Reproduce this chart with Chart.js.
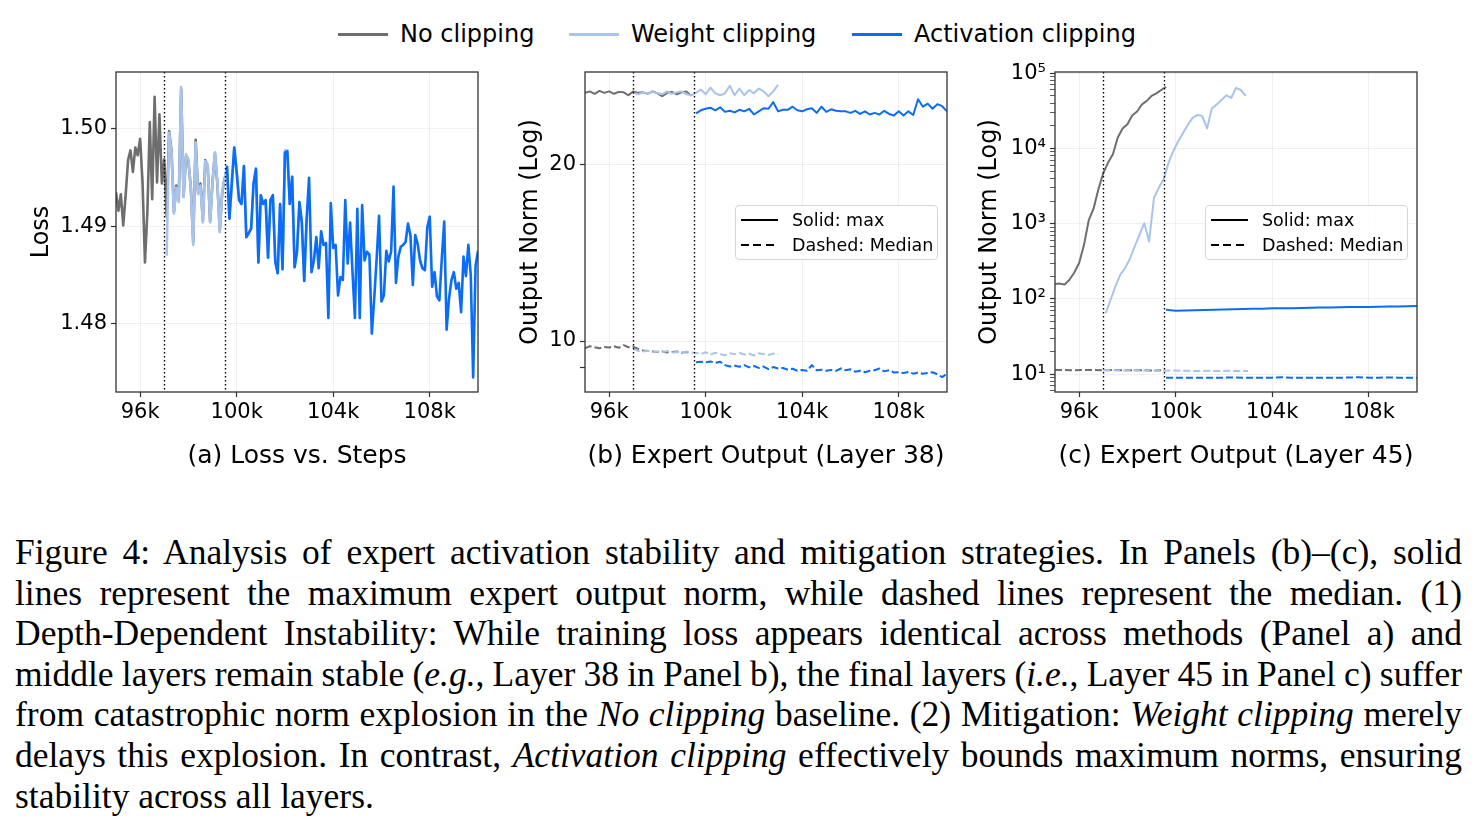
<!DOCTYPE html>
<html>
<head>
<meta charset="utf-8">
<title>Expert activation stability</title>
<script src="https://cdn.jsdelivr.net/npm/chart.js@4.4.1/dist/chart.umd.min.js"></script>
<style>
  body { margin: 0; background: #fff; }
  #page { position: relative; width: 1480px; height: 830px; overflow: hidden; font-family: "DejaVu Sans", sans-serif; }
  canvas.panel { position: absolute; top: 40px; }
  .key { position: absolute; top: 19px; height: 30px; display: flex; align-items: center; font-size: 24px; color: #000; white-space: nowrap; }
  .key i { display: inline-block; width: 50px; height: 3px; margin-right: 12px; }
  .box { position: absolute; top: 205px; width: 201px; height: 53px; border: 1px solid #d6d6d6; border-radius: 4px; background: rgba(255,255,255,0.85); font-size: 17.5px; color: #000; }
  .box div { position: absolute; left: 5px; height: 22px; display: flex; align-items: center; white-space: nowrap; }
  .box i { display: inline-block; width: 37px; height: 2.2px; margin-right: 14px; background: #000; }
  .box i.dash { background: repeating-linear-gradient(90deg, #000 0 8px, transparent 8px 12.5px); }
  #caption { position: absolute; left: 15px; top: 532px; width: 1447px; font-family: "Liberation Serif", serif; font-size: 35.5px; line-height: 40.6px; color: #000; }
  #caption div { text-align: justify; text-align-last: justify; word-spacing: -5px; }
  #caption div.last { text-align-last: left; word-spacing: 0; }
</style>
</head>
<body>
<div id="page">
  <div class="key" style="left:338px"><i style="background:#6e6e6e"></i>No clipping</div>
  <div class="key" style="left:569px"><i style="background:#a8c4ec"></i>Weight clipping</div>
  <div class="key" style="left:852px"><i style="background:#0a6cf7"></i>Activation clipping</div>

  <canvas id="lossChart" class="panel" width="495" height="440" style="left:0px"></canvas>
  <canvas id="layer38Chart" class="panel" width="480" height="440" style="left:495px"></canvas>
  <canvas id="layer45Chart" class="panel" width="505" height="440" style="left:975px"></canvas>

  <div class="box" style="left:735px">
    <div style="top:3px"><i></i>Solid: max</div>
    <div style="top:28px"><i class="dash"></i>Dashed: Median</div>
  </div>
  <div class="box" style="left:1205px">
    <div style="top:3px"><i></i>Solid: max</div>
    <div style="top:28px"><i class="dash"></i>Dashed: Median</div>
  </div>

  <div id="caption">
    <div>Figure 4: Analysis of expert activation stability and mitigation strategies. In Panels (b)–(c), solid</div>
    <div>lines represent the maximum expert output norm, while dashed lines represent the median. (1)</div>
    <div>Depth-Dependent Instability: While training loss appears identical across methods (Panel a) and</div>
    <div>middle layers remain stable (<i>e.g.</i>, Layer 38 in Panel b), the final layers (<i>i.e.</i>, Layer 45 in Panel c) suffer</div>
    <div>from catastrophic norm explosion in the <i>No clipping</i> baseline. (2) Mitigation: <i>Weight clipping</i> merely</div>
    <div>delays this explosion. In contrast, <i>Activation clipping</i> effectively bounds maximum norms, ensuring</div>
    <div class="last">stability across all layers.</div>
  </div>
</div>

<script>
// training steps shown on every panel
const stepTicks = [96000, 100000, 104000, 108000];
const phaseSteps = [97000, 99500];   // weight clipping restart, activation clipping restart

// (a) loss, logged every 100 steps
const lossNoClip = [
  1.4935, 1.4916, 1.4933, 1.4901, 1.4932, 1.4968, 1.4978, 1.4956, 1.4981, 1.4973,
  1.4990, 1.4945, 1.4863, 1.4915, 1.5007, 1.4928, 1.5033, 1.4945, 1.5015, 1.4944,
  1.4969, 1.4910, 1.4998, 1.4978, 1.4915, 1.4942, 1.4927, 1.5041, 1.4931, 1.4972,
  1.4967, 1.4940, 1.4884, 1.4989, 1.4935, 1.4944, 1.4906, 1.4968, 1.4962, 1.4905,
  1.4946, 1.4975, 1.4944, 1.4896, 1.4934, 1.4950
];
const lossWeightClip = [
  1.4870, 1.4996, 1.4976, 1.4913, 1.4940, 1.4925, 1.5043, 1.4930, 1.4974, 1.4969,
  1.4939, 1.4881, 1.4986, 1.4933, 1.4942, 1.4904, 1.4967, 1.4963, 1.4904, 1.4945,
  1.4976, 1.4945, 1.4894, 1.4935, 1.4949, 1.4962, 1.4908, 1.4945, 1.4981, 1.4956,
  1.4927, 1.4923, 1.4962, 1.4889, 1.4893, 1.4898, 1.4944, 1.4960, 1.4863, 1.4932,
  1.4923, 1.4927, 1.4868, 1.4927, 1.4932, 1.4864, 1.4852, 1.4923, 1.4856, 1.4978,
  1.4978, 1.4923, 1.4951, 1.4858, 1.4874, 1.4925, 1.4904, 1.4844, 1.4908
];
const lossActClip = [
  1.4962, 1.4908, 1.4945, 1.4981, 1.4956, 1.4927, 1.4923, 1.4962, 1.4889, 1.4893,
  1.4898, 1.4944, 1.4959, 1.4863, 1.4932, 1.4923, 1.4927, 1.4868, 1.4927, 1.4932,
  1.4864, 1.4852, 1.4923, 1.4856, 1.4976, 1.4977, 1.4923, 1.4951, 1.4858, 1.4874,
  1.4925, 1.4904, 1.4844, 1.4908, 1.4950, 1.4853, 1.4865, 1.4889, 1.4857, 1.4895,
  1.4881, 1.4883, 1.4806, 1.4924, 1.4878, 1.4881, 1.4829, 1.4848, 1.4845, 1.4927,
  1.4862, 1.4904, 1.4853, 1.4806, 1.4918, 1.4806, 1.4922, 1.4865, 1.4874, 1.4871,
  1.4790, 1.4826, 1.4867, 1.4911, 1.4823, 1.4829, 1.4875, 1.4864, 1.4874, 1.4941,
  1.4842, 1.4869, 1.4879, 1.4881, 1.4884, 1.4903, 1.4891, 1.4840, 1.4891, 1.4882,
  1.4865, 1.4857, 1.4855, 1.4899, 1.4910, 1.4838, 1.4853, 1.4828, 1.4824, 1.4867,
  1.4905, 1.4794, 1.4826, 1.4845, 1.4853, 1.4836, 1.4842, 1.4812, 1.4869, 1.4849,
  1.4881, 1.4850, 1.4745, 1.4860, 1.4875
];
const lossTicks = [1.48, 1.49, 1.50];

// (b) layer 38 output norm, every 200 steps
const maxNoClipB = [26.45, 26.6, 26.35, 26.65, 26.45, 26.6, 26.35, 26.55, 26.5, 26.2, 26.6, 26.45, 26.5, 26.35, 26.6, 26.4, 26.1, 26.45, 26.55, 26.3, 26.5, 26.6, 26.15];
const maxWeightB = [26.45, 26.3, 26.5, 26.35, 26.55, 26.4, 26.3, 26.6, 26.35, 26.5, 26.6, 26.3, 26.2, 26.45, 26.8, 26.3, 27.0, 26.4, 26.2, 26.4, 27.2, 26.2, 26.9, 26.2, 26.75, 26.4, 26.9, 26.6, 26.1, 26.6, 27.3];
const maxActB = [
  24.4, 24.7, 24.85, 24.95, 24.7, 25.0, 24.55, 24.65, 24.5, 24.75,
  24.6, 24.85, 24.3, 24.6, 24.9, 24.85, 25.5, 24.6, 24.75, 24.75,
  25.05, 24.7, 24.6, 24.8, 24.9, 24.45, 25.05, 24.55, 24.8, 24.65,
  24.6, 24.6, 24.45, 24.65, 24.35, 24.6, 24.3, 24.45, 24.3, 24.65,
  24.35, 24.2, 24.6, 24.2, 24.6, 24.25, 25.8, 25.05, 25.35, 24.85,
  25.3, 25.1, 24.6
];
const medNoClipB = [9.72, 9.8, 9.76, 9.72, 9.77, 9.75, 9.8, 9.74, 9.84, 9.76, 9.78, 9.7, 9.64, 9.62, 9.6, 9.58, 9.6, 9.56, 9.58, 9.6, 9.55, 9.58, 9.56];
const medWeightB = [9.7, 9.62, 9.6, 9.63, 9.58, 9.6, 9.57, 9.62, 9.56, 9.58, 9.55, 9.6, 9.56, 9.55, 9.5, 9.57, 9.48, 9.55, 9.5, 9.46, 9.53, 9.5, 9.55, 9.48, 9.52, 9.45, 9.53, 9.5, 9.47, 9.52, 9.5];
const medActB = [
  9.2, 9.22, 9.2, 9.23, 9.18, 9.22, 9.1, 9.05, 9.08, 9.04,
  9.1, 9.02, 9.07, 9.0, 9.05, 8.96, 9.03, 8.98, 9.0, 8.94,
  8.97, 8.9, 8.93, 8.9, 9.1, 8.92, 8.94, 8.9, 8.93, 8.9,
  8.98, 8.92, 8.95, 8.87, 8.9, 8.85, 8.9, 8.92, 8.98, 8.88,
  8.92, 8.84, 8.85, 8.82, 8.86, 8.8, 8.84, 8.8, 8.82, 8.85,
  8.78, 8.68, 8.8
];
const normTicksB = [9, 10, 20];

// (c) layer 45 output norm
const maxNoClipC = [158, 160, 156, 180, 225, 300, 520, 1120, 1600, 2900, 4700, 6500, 8400, 14000, 18500, 21000, 27500, 31000, 38500, 43000, 50000, 54000, 60000, 66000];
const maxWeightC = [64.6, 97, 146, 209, 256, 340, 497, 710, 1016, 579, 2200, 3000, 3900, 6400, 9200, 12400, 16000, 20500, 25500, 28000, 27000, 18500, 34000, 38500, 44000, 51000, 47000, 64000, 60000, 50000];
const maxActC = [72, 69.5, 70.5, 71, 71.5, 72, 72.5, 73, 73.5, 74, 74, 75, 75.5, 75.5, 76, 76.5, 77, 77, 77.5, 78, 78.5, 78, 79, 79.5, 79.5, 80, 80.5];
const medNoClipC = [11.4, 11.4, 11.3, 11.4, 11.4, 11.3, 11.4, 11.3, 11.3, 11.3, 11.2, 11.3];
const medWeightC = [11.3, 11.3, 11.2, 11.3, 11.2, 11.2, 11.1, 11.2, 11.1, 11.1, 11.0, 11.1, 11.0, 11.1, 11.0, 11.0];
const medActC = [9.0, 8.95, 9.0, 9.0, 8.95, 9.0, 9.0, 9.05, 9.0, 8.95, 9.0, 9.0, 9.1, 9.0, 9.0, 8.95, 9.0, 9.0, 8.95, 9.05, 9.1, 9.0, 9.0, 9.05, 9.0, 8.95, 9.0];
const majorTicksC = [10, 100, 1000, 10000, 100000];
const minorTicksC = [6, 7, 8, 9, 20, 30, 40, 50, 60, 70, 80, 90, 200, 300, 400, 500, 600, 700, 800, 900,
  2000, 3000, 4000, 5000, 6000, 7000, 8000, 9000, 20000, 30000, 40000, 50000, 60000, 70000, 80000, 90000];

const GRAY = '#6e6e6e', LIGHT = '#a8c4ec', BLUE = '#0a6cf7';
// Chart.js paints higher "order" first: no clipping at the bottom, activation clipping on top
const LAYER = { [GRAY]: 2, [LIGHT]: 1, [BLUE]: 0 };
const FONT = 'DejaVu Sans';
const tickFont = { family: FONT, size: 21 };
const gridColor = 'rgba(0,0,0,0.06)';

// logged steps: first step, spacing
function steps(start, every, values) {
  return values.map((v, i) => ({ x: start + i * every, y: v }));
}

function line(values, color, width, dashed) {
  return {
    data: values, borderColor: color, borderWidth: width, borderDash: dashed ? [7, 3] : [],
    pointRadius: 0, tension: 0, borderJoinStyle: 'round', fill: false, order: LAYER[color]
  };
}

const frameAndPhases = {
  id: 'frameAndPhases',
  afterDatasetsDraw(chart) {
    const { ctx, chartArea: a, scales: { x } } = chart;
    ctx.save();
    ctx.strokeStyle = '#000';
    ctx.lineWidth = 1.4;
    ctx.setLineDash([1.5, 2.5]);
    phaseSteps.forEach(s => {
      const px = Math.round(x.getPixelForValue(s)) + 0.5;
      ctx.beginPath();
      ctx.moveTo(px, a.top);
      ctx.lineTo(px, a.bottom);
      ctx.stroke();
    });
    ctx.restore();
  },
  afterDraw(chart) {
    const { ctx, chartArea: a } = chart;
    ctx.save();
    ctx.strokeStyle = '#333';
    ctx.lineWidth = 1.3;
    ctx.strokeRect(a.left, a.top, a.right - a.left, a.bottom - a.top);
    ctx.restore();
  }
};

function xAxis(title) {
  return {
    type: 'linear', min: 95000, max: 110000, bounds: 'data',
    afterBuildTicks: s => { s.ticks = stepTicks.map(v => ({ value: v })); },
    afterFit: s => { s.height = 88; },
    ticks: { autoSkip: false, maxRotation: 0, padding: 3, color: '#000', font: tickFont, callback: v => (v / 1000) + 'k' },
    grid: { color: gridColor, tickColor: '#333', tickLength: 5, tickWidth: 1.2, lineWidth: 1 },
    border: { display: false },
    title: { display: true, text: title, color: '#000', font: { family: FONT, size: 25 }, padding: { top: 0, bottom: 9 } }
  };
}

function yTitle(pad) {
  return { display: true, text: '', color: '#000', font: { family: FONT, size: 24 }, padding: { top: pad, bottom: 0 } };
}

function makeChart(id, datasets, x, y, padRight) {
  return new Chart(document.getElementById(id), {
    type: 'line',
    data: { datasets: datasets },
    options: {
      responsive: false, animation: false, events: [],
      layout: { padding: { top: 32, right: padRight, left: 0, bottom: 0 } },
      plugins: { legend: { display: false }, tooltip: { enabled: false } },
      scales: { x: x, y: y }
    },
    plugins: [frameAndPhases]
  });
}

// (a) Loss vs. Steps
makeChart('lossChart', [
  line(steps(95000, 100, lossNoClip), GRAY, 2.6),
  line(steps(97100, 100, lossWeightClip), LIGHT, 2.6),
  line(steps(99600, 100, lossActClip), BLUE, 2.6)
], xAxis('(a) Loss vs. Steps'), {
  min: 1.4730, max: 1.50585, bounds: 'data',
  afterBuildTicks: s => { s.ticks = lossTicks.map(v => ({ value: v })); },
  afterFit: s => { s.width = 116; },
  ticks: { autoSkip: false, padding: 4, color: '#000', font: tickFont, callback: v => v.toFixed(2) },
  grid: { color: gridColor, tickColor: '#333', tickLength: 5, tickWidth: 1.2 },
  border: { display: false },
  title: Object.assign(yTitle(27), { text: 'Loss' })
}, 17);

// (b) Expert Output (Layer 38)
makeChart('layer38Chart', [
  line(steps(95000, 200, maxNoClipB), GRAY, 2),
  line(steps(95000, 200, medNoClipB), GRAY, 2, true),
  line(steps(97000, 200, maxWeightB), LIGHT, 2),
  line(steps(97000, 200, medWeightB), LIGHT, 2, true),
  line(steps(99600, 200, maxActB), BLUE, 2),
  line(steps(99600, 200, medActB), BLUE, 2, true)
], xAxis('(b) Expert Output (Layer 38)'), {
  type: 'logarithmic', min: 8.19, max: 28.7, bounds: 'data',
  afterBuildTicks: s => { s.ticks = normTicksB.map(v => ({ value: v })); },
  afterFit: s => { s.width = 90; },
  ticks: { autoSkip: false, padding: 4, color: '#000', font: tickFont, callback: v => (v === 10 || v === 20) ? String(v) : '' },
  grid: {
    color: c => (c.tick && c.tick.value !== 9) ? gridColor : 'transparent',
    tickColor: '#333', tickLength: 5, tickWidth: 1.2
  },
  border: { display: false },
  title: Object.assign(yTitle(21.6), { text: 'Output Norm (Log)' })
}, 28);

// (c) Expert Output (Layer 45)
const SUP = { 1: '¹', 2: '²', 3: '³', 4: '⁴', 5: '⁵' };
makeChart('layer45Chart', [
  line(steps(95000, 200, maxNoClipC), GRAY, 2),
  line(steps(95000, 400, medNoClipC), GRAY, 2, true),
  line(steps(97100, 200, maxWeightC), LIGHT, 2),
  line(steps(97000, 400, medWeightC), LIGHT, 2, true),
  line(steps(99600, 400, maxActC), BLUE, 2),
  line(steps(99600, 400, medActC), BLUE, 2, true)
], xAxis('(c) Expert Output (Layer 45)'), {
  type: 'logarithmic', min: 5.8, max: 104000, bounds: 'data',
  afterBuildTicks: s => {
    s.ticks = majorTicksC.concat(minorTicksC).sort((a, b) => a - b).map(v => ({ value: v }));
  },
  afterFit: s => { s.width = 80; },
  ticks: {
    autoSkip: false, padding: 4, color: '#000', font: tickFont,
    callback: v => majorTicksC.includes(v) ? '10' + SUP[Math.round(Math.log10(v))] : ''
  },
  grid: {
    color: c => (c.tick && majorTicksC.includes(c.tick.value)) ? gridColor : 'transparent',
    tickColor: '#333', tickLength: 5,
    tickWidth: c => (c.tick && majorTicksC.includes(c.tick.value)) ? 1.2 : 0.8
  },
  border: { display: false },
  title: Object.assign(yTitle(0), { text: 'Output Norm (Log)' })
}, 63);
</script>
</body>
</html>
